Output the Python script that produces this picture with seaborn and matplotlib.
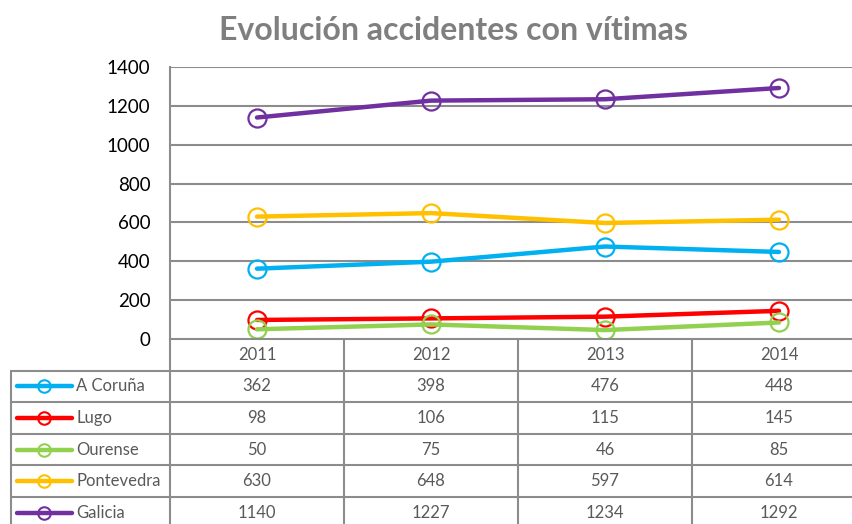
import numpy as np
import pandas as pd
import matplotlib
matplotlib.use('Agg')
import matplotlib.pyplot as plt
import seaborn as sns
from matplotlib.lines import Line2D

# Datos
years = ['2011', '2012', '2013', '2014']
provincias = ['A Coruña', 'Lugo', 'Ourense', 'Pontevedra', 'Galicia']
a_coruna = [362, 398, 476, 448]
lugo = [98, 106, 115, 145]
ourense = [50, 75, 46, 85]
pontevedra = [630, 648, 597, 614]
galicia = [1140, 1227, 1234, 1292]
colores = ['#00B0F0', '#FF0000', '#92D050', '#FFC000', '#7030A0']
y_ticks = [0, 200, 400, 600, 800, 1000, 1200, 1400]

series = [a_coruna, lugo, ourense, pontevedra, galicia]

sns.set_style('white')
plt.rcParams['font.family'] = ['Lato', 'DejaVu Sans']

fig = plt.figure(figsize=(8.52, 5.24), dpi=100)
W, H = 852, 524
ax = fig.add_axes([170 / W, (H - 339) / H, 696 / W, 272 / H])

grid_col = '#8C8C8C'
text_col = '#595959'

for nombre, valores, c in zip(provincias, series, colores):
    df = pd.DataFrame({'year': years, 'value': valores})
    sns.lineplot(data=df, x='year', y='value', ax=ax, color=c, lw=3.2,
                 marker='o', markersize=13, markerfacecolor='none',
                 markeredgecolor=c, markeredgewidth=1.6, sort=False)

ax.set_xlim(-0.5, 3.5)
ax.set_ylim(0, 1400)
ax.set_yticks(y_ticks)
ax.set_yticklabels([str(t) for t in y_ticks], fontsize=13.5, color='black')
ax.tick_params(axis='y', length=0, pad=14)
ax.set_xticks([])
ax.set_xlabel('')
ax.set_ylabel('')
for t in y_ticks[1:]:
    ax.axhline(t, color=grid_col, lw=1.5, zorder=0)
for s in ['top', 'right']:
    ax.spines[s].set_visible(False)
for s in ['left', 'bottom']:
    ax.spines[s].set_color(grid_col)
    ax.spines[s].set_linewidth(1.5)

# Tabla de datos bajo el grafico
tr = ax.get_xaxis_transform()
rh = 31.6 / 272
x_left = -0.5 - (170 - 11) / 174
x_right = 3.6
n_rows = len(provincias) + 1
lk = dict(color=grid_col, lw=1.5, transform=tr, clip_on=False)

for k in range(1, n_rows + 1):
    ax.add_line(Line2D([x_left, x_right], [-k * rh, -k * rh], **lk))
ax.add_line(Line2D([x_left, x_left], [-rh, -n_rows * rh], **lk))
for xb in [-0.5, 0.5, 1.5, 2.5]:
    ax.add_line(Line2D([xb, xb], [0, -n_rows * rh], **lk))

for i, yr in enumerate(years):
    ax.text(i, -0.5 * rh, yr, transform=tr, ha='center', va='center',
            fontsize=12, color=text_col)

for r, (nombre, valores, c) in enumerate(zip(provincias, series, colores)):
    yc = -(r + 1.5) * rh
    for i, v in enumerate(valores):
        ax.text(i, yc, str(v), transform=tr, ha='center', va='center',
                fontsize=12, color=text_col)
    x0 = -0.5 + (17 - 170) / 174
    x1 = -0.5 + (72 - 170) / 174
    xm = -0.5 + (44 - 170) / 174
    ax.add_line(Line2D([x0, x1], [yc, yc], color=c, lw=3.2, transform=tr,
                       clip_on=False, solid_capstyle='round'))
    ax.add_line(Line2D([xm], [yc], color=c, marker='o', markersize=9,
                       markerfacecolor='none', markeredgewidth=1.5,
                       transform=tr, clip_on=False))
    ax.text(-0.5 + (76 - 170) / 174, yc, nombre, transform=tr, ha='left',
            va='center', fontsize=12, color=text_col)

fig.text(453 / W, 1 - 31 / H, 'Evolución accidentes con vítimas',
         ha='center', va='center', fontsize=23, fontweight='bold',
         color='#7F7F7F')

fig.savefig('out.png', dpi=100)
